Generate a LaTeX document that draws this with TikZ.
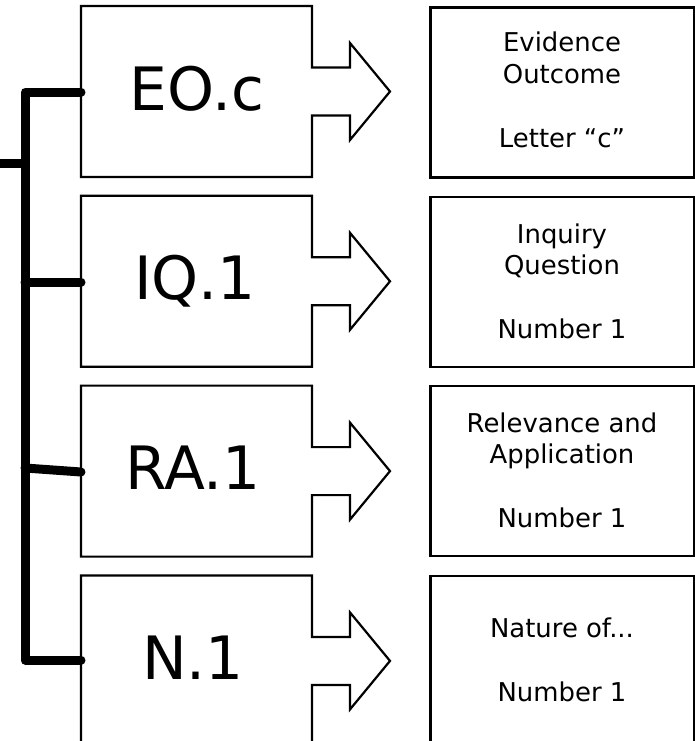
\documentclass[tikz,border=0pt]{standalone}
\usepackage{fontspec}
\setmainfont{DejaVu Sans}
\begin{document}
\begin{tikzpicture}[x=1bp,y=-1bp,
  shapeline/.style={draw=black,line width=2.2bp,line join=miter},
  infobox/.style={draw=black,line width=2.6bp,minimum width=264bp,minimum height=170bp,inner sep=0pt},
  bigtext/.style={font=\fontsize{60}{72}\selectfont,anchor=base,inner sep=0pt},
  smalltext/.style={font=\fontsize{26}{32}\selectfont,anchor=base,inner sep=0pt},
  bus/.style={draw=black,line width=9bp,line cap=round,line join=round}]
\useasboundingbox (0,0) rectangle (695,741);
% left arrow-shaped boxes
\foreach \cy in {91.5,281.3,471.1,660.9}{
  \draw[shapeline] (81,\cy-85.5) -- (312,\cy-85.5) -- (312,\cy-24) -- (350,\cy-24)
    -- (350,\cy-48.5) -- (390,\cy) -- (350,\cy+48.5) -- (350,\cy+24) -- (312,\cy+24)
    -- (312,\cy+85.5) -- (81,\cy+85.5) -- cycle;
}
\coordinate (wEO) at (81,92);
\coordinate (wIQ) at (81,282);
\coordinate (wRA) at (81,472);
\coordinate (wN) at (81,660);
\node[bigtext] (lEO) at (197,110) {EO.c};
\node[bigtext] (lIQ) at (195,299.8) {IQ.1};
\node[bigtext] (lRA) at (193,489.6) {RA.1};
\node[bigtext] (lN) at (193,679.4) {N.1};
% right info boxes
\node[infobox] (bEO) at (562.25,92.25) {};
\node[infobox] (bIQ) at (562.25,282) {};
\node[infobox] (bRA) at (562.25,471) {};
\node[infobox] (bN) at (562.25,661) {};
\node[smalltext] (tEO) at (562,52) {\begin{tabular}[t]{@{}c@{}}Evidence\\Outcome\\[32bp]Letter “c”\end{tabular}};
\node[smalltext] (tIQ) at (562,243) {\begin{tabular}[t]{@{}c@{}}Inquiry\\Question\\[32bp]Number 1\end{tabular}};
\node[smalltext] (tRA) at (562,432) {\begin{tabular}[t]{@{}c@{}}Relevance and\\Application\\[32bp]Number 1\end{tabular}};
\node[smalltext] (tN) at (562,637) {\begin{tabular}[t]{@{}c@{}}Nature of...\\[33bp]Number 1\end{tabular}};
% bus
\coordinate (busTop) at (25,92);
\coordinate (busBot) at (25,660);
\coordinate (busIQ) at (25,282);
\coordinate (busRA) at (25,468);
\coordinate (busStub) at (25,163);
\coordinate (stubEnd) at (-5,163);
\draw[bus] (wEO) -- (busTop) -- (busBot) -- (wN);
\draw[bus] (busIQ) -- (wIQ);
\draw[bus] (busRA) -- (wRA);
\draw[bus] (stubEnd) -- (busStub);
\end{tikzpicture}
\end{document}
